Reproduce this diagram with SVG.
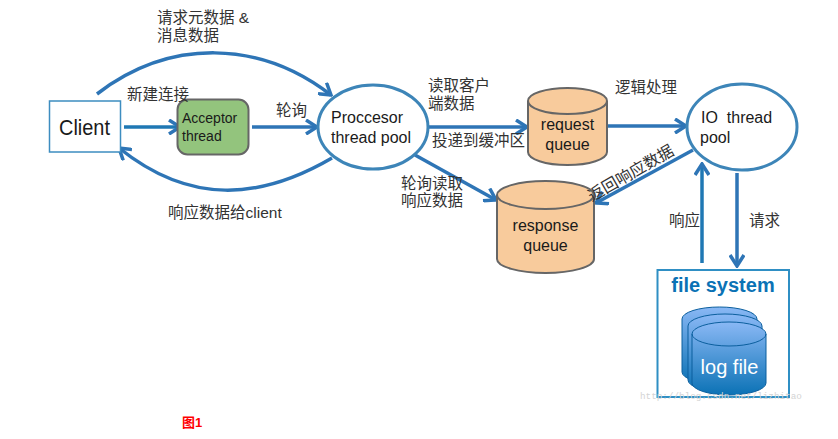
<svg xmlns="http://www.w3.org/2000/svg" width="838" height="439" viewBox="0 0 838 439">
<style>
text{font-family:"Liberation Sans","Noto Sans CJK SC",sans-serif;font-size:16px;fill:#1a1a1a}
.cn{font-size:15.500px;fill:#333}
.blue{fill:none;stroke:#2e75b6;stroke-width:3.5}
.deep{fill:none;stroke:#1f78b4;stroke-width:3.5}
.node{fill:#fff;stroke:#3d85b8;stroke-width:3}
.q{fill:#f8cb9c;stroke:#666;stroke-width:2}
</style>
<defs>
<marker id="a" viewBox="0 0 16 16" refX="14" refY="8" markerWidth="16" markerHeight="16" markerUnits="userSpaceOnUse" orient="auto"><path d="M3 1L14 8L3 15" fill="none" stroke="#2e75b6" stroke-width="3.5"/></marker>
<linearGradient id="g" x1="0" y1="0" x2="0" y2="1"><stop offset="0" stop-color="#8ab8f5"/><stop offset="1" stop-color="#0b72b5"/></linearGradient>
</defs>
<rect width="838" height="439" fill="#fff"/>
<g id="connectors">
<path class="blue" marker-end="url(#a)" d="M97 94C170 38 260 40 331 95"/>
<path class="blue" marker-end="url(#a)" d="M332 158C260 200 190 205 119 148"/>
<path class="deep" marker-end="url(#a)" d="M124 127H180"/>
<path class="blue" marker-end="url(#a)" d="M252 127H317"/>
<path class="blue" marker-end="url(#a)" d="M427 127H527"/>
<path class="blue" marker-end="url(#a)" d="M608 126H686"/>
<path class="blue" marker-end="url(#a)" d="M415 155L496 200"/>
<path class="blue" marker-end="url(#a)" d="M693 150L596 203"/>
<path class="deep" marker-end="url(#a)" d="M702 263V164"/>
<path class="blue" marker-end="url(#a)" d="M737 173V266"/>
</g>
<g id="client"><rect x="49.500" y="101" width="71" height="51" fill="#fff" stroke="#3d8dc0" stroke-width="1.500"/><text x="59" y="135" textLength="51" lengthAdjust="spacingAndGlyphs" style="font-size:22px">Client</text></g>
<g id="acceptor"><rect x="177.500" y="99.500" width="71" height="55" rx="10" fill="#93c47d" stroke="#666" stroke-width="2"/><text x="182" y="123" style="font-size:14px">Acceptor</text><text x="182" y="141" style="font-size:14px">thread</text></g>
<g id="processor"><ellipse cx="373" cy="127" rx="55" ry="42" class="node"/><text x="331" y="123">Proccesor</text><text x="331" y="143">thread pool</text></g>
<g id="request-queue"><path class="q" d="M528 101A39.500 13 0 0 1 607 101V152A39.500 13 0 0 1 528 152Z"/><path d="M528 101A39.500 13 0 0 0 607 101" fill="none" stroke="#666" stroke-width="2"/><text x="567.500" y="130" text-anchor="middle">request</text><text x="567.500" y="150" text-anchor="middle">queue</text></g>
<g id="response-queue"><path class="q" d="M497 195A48.500 14 0 0 1 594 195V259A48.500 14 0 0 1 497 259Z"/><path d="M497 195A48.500 14 0 0 0 594 195" fill="none" stroke="#666" stroke-width="2"/><text x="545.500" y="231" text-anchor="middle">response</text><text x="545.500" y="251" text-anchor="middle">queue</text></g>
<g id="io-pool"><ellipse cx="742" cy="127" rx="55" ry="43" class="node"/><text x="701" y="123" xml:space="preserve">IO  thread</text><text x="700" y="143">pool</text></g>
<g id="file-system"><rect x="657.500" y="270" width="131.500" height="127" fill="#fff" stroke="#2f8fc4" stroke-width="2"/><text x="723" y="292" text-anchor="middle" style="font-size:20px;font-weight:bold;fill:#0b72b5">file system</text>
<path d="M682 319A37.500 12 0 0 1 757 319V372A37.500 12 0 0 1 682 372Z" fill="url(#g)" stroke="#0b5f9e"/>
<path d="M688 326A37 12 0 0 1 762 326V380A37 12 0 0 1 688 380Z" fill="url(#g)" stroke="#0b5f9e"/>
<path d="M692 334A37 12 0 0 1 766 334V383A37 12 0 0 1 692 383Z" fill="url(#g)" stroke="#0b5f9e"/>
<path d="M692 334A37 12 0 0 0 766 334" fill="none" stroke="#0b5f9e"/>
<text x="729.500" y="374" text-anchor="middle" style="font-size:20px;fill:#fff">log file</text></g>
<g id="labels">
<text class="cn" x="157" y="23">请求元数据 &amp;</text><text class="cn" x="157" y="41">消息数据</text>
<text class="cn" x="127" y="100">新建连接</text>
<text class="cn" x="276" y="116">轮询</text>
<text class="cn" x="168" y="218">响应数据给client</text>
<text class="cn" x="428" y="91">读取客户</text><text class="cn" x="428" y="109">端数据</text>
<text class="cn" x="432" y="146">投递到缓冲区</text>
<text class="cn" x="401" y="189">轮询读取</text><text class="cn" x="401" y="206">响应数据</text>
<text class="cn" x="615" y="93">逻辑处理</text>
<text class="cn" style="font-size:16px" transform="translate(592 202) rotate(-30)">返回响应数据</text>
<text class="cn" x="669" y="226">响应</text>
<text class="cn" x="749" y="226">请求</text>
<text x="182" y="427" style="font-size:13px;font-weight:bold;fill:#f00">图1</text>
<text x="640" y="399" style="font-family:'Liberation Mono',monospace;font-size:9.300px;fill:#d4d4d4">http://blog.csdn.net/lizhitao</text>
</g>
</svg>
